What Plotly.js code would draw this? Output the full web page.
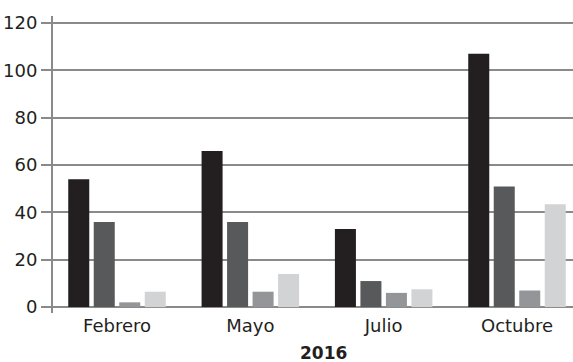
<!DOCTYPE html>
<html>
<head>
<meta charset="utf-8">
<script src="https://cdn.plot.ly/plotly-3.0.1.min.js"></script>
<style>html,body{margin:0;padding:0;background:#fff;}#chart{width:573px;height:362px;}</style>
</head>
<body>
<div id="chart"></div>
<script>
const categories = ["Febrero", "Mayo", "Julio", "Octubre"];
const serie1 = [54, 66, 33, 107];
const serie2 = [36, 36, 11, 51];
const serie3 = [2, 6.5, 6, 7];
const serie4 = [6.5, 14, 7.5, 43.5];
const yTicks = [0, 20, 40, 60, 80, 100, 120];
const xTitle = "2016";

const colors = ["#231f20", "#58595b", "#939598", "#d1d3d4"];
const series = [serie1, serie2, serie3, serie4];
const traces = series.map((vals, i) => ({
  type: "bar",
  x: categories,
  y: vals,
  marker: {color: colors[i], line: {width: 0}},
  hoverinfo: "skip"
}));

const gridColor = "#8a8a8a";
const layout = {
  width: 573, height: 362,
  margin: {l: 53, r: 0, t: 16, b: 49, pad: 0},
  paper_bgcolor: "#fff", plot_bgcolor: "#fff",
  showlegend: false,
  barmode: "group",
  bargap: 0.235,
  bargroupgap: 0.176,
  font: {family: "DejaVu Sans", size: 18, color: "#231f20"},
  xaxis: {
    type: "category",
    range: [-0.48, 3.42],
    showgrid: false,
    showline: false,
    zeroline: false,
    ticks: "",
    tickfont: {family: "DejaVu Sans", size: 18, color: "#231f20"}
  },
  yaxis: {
    range: [-2.5, 123],
    tickvals: yTicks,
    ticktext: yTicks.map(String),
    showgrid: true,
    gridcolor: gridColor,
    gridwidth: 2,
    zeroline: true,
    zerolinecolor: gridColor,
    zerolinewidth: 2,
    showline: true,
    linecolor: gridColor,
    linewidth: 2,
    ticks: "outside",
    ticklen: 10,
    tickwidth: 2,
    tickcolor: gridColor,
    tickfont: {family: "DejaVu Sans", size: 18, color: "#231f20"}
  },
  annotations: [{
    text: "<b>" + xTitle + "</b>",
    xref: "paper", yref: "paper",
    x: 0.521, y: -0.135,
    xanchor: "center", yanchor: "middle",
    showarrow: false,
    font: {family: "DejaVu Sans", size: 17, color: "#231f20"}
  }]
};

Plotly.newPlot("chart", traces, layout, {staticPlot: true, displayModeBar: false});
</script>
</body>
</html>
